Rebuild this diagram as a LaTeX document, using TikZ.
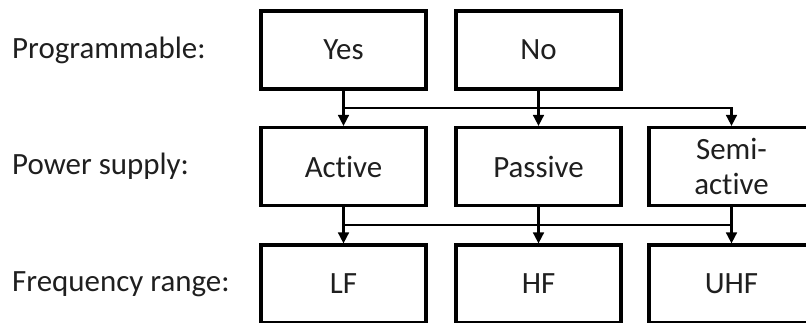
\documentclass[tikz,border=0pt]{standalone}
\usepackage{fontspec}
\setmainfont{Carlito}[Ligatures=NoCommon]
\usepackage{tikz}
\usetikzlibrary{arrows.meta}
\colorlet{textgray}{black!88}
\tikzset{
  box/.style={draw,line width=2.6pt,minimum width=4.95cm,minimum height=2.34cm,inner sep=0pt,align=center,text=textgray,font=\fontsize{26.4}{29.5}\selectfont},
  rowlabel/.style={anchor=west,inner sep=0pt,text=textgray,font=\fontsize{26.4}{29.5}\selectfont},
  link/.style={line width=2pt,-{Triangle[width=0.32cm,length=0.33cm]}},
  bus/.style={line width=2pt}
}

\begin{document}
\begin{tikzpicture}[x=0.03cm,y=-0.03cm]
        \clip (0,0) rectangle (806,322);
        \coordinate(b1) at (0,108);
        \coordinate(b2) at (0,225);
        \node[rowlabel] (lprog) at (12,50) {Programmable:};
        \node[rowlabel] (lpower) at (12,166) {Power supply:};
        \node[rowlabel] (lfreq) at (12,284) {Frequency range:};
        \node[box] (yes) at (343.5,50) {Yes};
        \node[box] (no) at (538.5,50) {No};
        \node[box] (active) at (343.5,166.5) {Active};
        \node[box] (passive) at (538.5,166.5) {Passive};
        \node[box] (semi) at (731.5,166.5) {Semi-\\active};
        \node[box] (lf) at (343.5,284) {LF};
        \node[box] (hf) at (538.5,284) {HF};
        \node[box] (uhf) at (731.5,284) {UHF};
        \draw[link] (yes.south) -- (active.north);
        \draw[link] (no.south) -- (passive.north);
        \draw[link] (yes.south |- b1) -| (semi.north);
        \draw[link] (active.south) -- (lf.north);
        \draw[link] (passive.south) -- (hf.north);
        \draw[link] (semi.south) -- (uhf.north);
        \draw[bus] (active.south |- b2) -- (semi.south |- b2);
    \end{tikzpicture}
\end{document}
